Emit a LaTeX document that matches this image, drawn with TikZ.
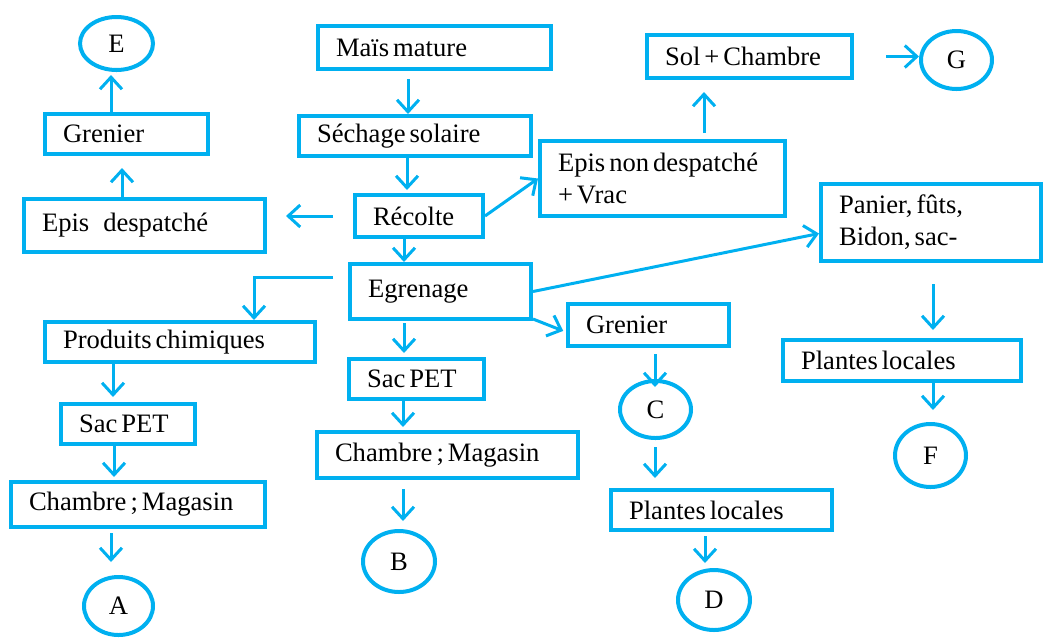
\documentclass[tikz,border=0pt]{standalone}
\usepackage{fontspec}
\setmainfont{Liberation Serif}
\usetikzlibrary{arrows.meta,shapes.geometric}
\definecolor{cb}{RGB}{0,176,240}
\newcommand\boxfont{\fontsize{13.3}{16}\selectfont}
\begin{document}
\begin{tikzpicture}[x=0.5pt,y=-0.5pt,
  bx/.style={draw=cb, line width=2pt, rectangle, inner xsep=9pt, inner ysep=0pt, align=left, font=\boxfont,
    execute at begin node={\spaceskip=2pt plus 0.5pt\xspaceskip=2pt\relax}},
  el/.style={draw=cb, line width=2pt, ellipse, inner sep=0pt, font=\boxfont},
  arr/.style={draw=cb, line width=1.5pt, -{Straight Barb[length=6pt,width=11pt]}}]
\useasboundingbox (0,0) rectangle (1050,639);
% boxes
\node[bx, text width=63.5pt, minimum height=20pt] (greL) at (126.5,134) {Grenier};
\node[bx, text width=102.5pt, minimum height=26.5pt] (epd) at (144.5,225.5) {Epis\hspace{7pt}despatché};
\node[bx, text width=98.5pt, minimum height=21.5pt] (mais) at (434.5,47.5) {Maïs mature};
\node[bx, text width=98pt, minimum height=20pt] (sech) at (415,136) {Séchage solaire};
\node[bx, text width=46pt, minimum height=21pt] (rec) at (419,216) {Récolte};
\node[bx, text width=72.5pt, minimum height=27.5pt] (egr) at (440.5,291.5) {Egrenage};
\node[bx, text width=104.5pt, minimum height=37.5pt] (epn) at (662.5,178.5) {Epis non despatché\\+ Vrac};
\node[bx, text width=84.5pt, minimum height=21.5pt] (sol) at (749.5,56.5) {Sol + Chambre};
\node[bx, text width=92pt, minimum height=38.5pt] (pan) at (931,222.5) {Panier, fûts,\\Bidon, sac-};
\node[bx, text width=101pt, minimum height=20.5pt] (plr) at (902,360.5) {Plantes locales};
\node[bx, text width=62.5pt, minimum height=21pt] (grm) at (648.5,325) {Grenier};
\node[bx, text width=92.5pt, minimum height=20pt] (plm) at (721.5,510) {Plantes locales};
\node[bx, text width=117pt, minimum height=20pt] (prod) at (180,342) {Produits chimiques};
\node[bx, text width=49pt, minimum height=20pt] (sacL) at (128,424) {Sac PET};
\node[bx, text width=109pt, minimum height=22.5pt] (chL) at (138,504.5) {Chambre ; Magasin};
\node[bx, text width=49.5pt, minimum height=20pt] (sacM) at (416.5,379) {Sac PET};
\node[bx, text width=112.5pt, minimum height=23pt] (chM) at (447.5,455) {Chambre ; Magasin};
% ellipses
\node[el, minimum width=36.5pt, minimum height=26.5pt] (E) at (116.5,43.5) {E};
\node[el, minimum width=35.5pt, minimum height=29pt] (G) at (956.5,60) {G};
\node[el, minimum width=35.5pt, minimum height=31.5pt] (F) at (930.5,455.5) {F};
\node[el, minimum width=35.5pt, minimum height=28.5pt] (C) at (655.5,409.5) {C};
\node[el, minimum width=36pt, minimum height=30pt] (D) at (714,600) {D};
\node[el, minimum width=34.5pt, minimum height=29pt] (A) at (118.5,606) {A};
\node[el, minimum width=36pt, minimum height=30.5pt] (B) at (399,561.5) {B};
% arrows
\draw[arr, shorten <=4pt] (mais.south -| 408,0) -- (sech.north -| 408,0);
\draw[arr, shorten >=1.5pt] (sech.south -| 407,0) -- (rec.north -| 407,0);
\draw[arr] (rec.south -| 404,0) -- (egr.north -| 404,0);
\draw[arr, shorten <=10pt, shorten >=9.5pt] (rec.west) -- (rec.west -| epd.east);
\draw[arr] (rec.east) -- (epn.west);
\draw[arr, shorten <=3pt, shorten >=6pt] (epn.north -| 704,0) -- (sol.south -| 704,0);
\draw[arr, shorten <=16pt] (sol.east) -- (sol.east -| G.west);
\draw[arr] (egr.east) -- ([yshift=-5.5pt]pan.west);
\draw[arr, shorten <=10.5pt, shorten >=4pt] (pan.south -| 933,0) -- (plr.north -| 933,0);
\draw[arr, shorten >=6pt] (plr.south -| 933,0) -- (F.north -| 933,0);
\draw[arr, shorten >=1.5pt] ([yshift=1pt]egr.south east) -- ([yshift=-3.5pt]grm.west);
\draw[arr, shorten <=3pt, shorten >=-4pt] (grm.south -| 655,0) -- (C.north -| 655,0);
\draw[arr, shorten <=3.5pt, shorten >=5pt] (C.south -| 655,0) -- (plm.north -| 655,0);
\draw[arr, shorten <=2pt, shorten >=2.5pt] (plm.south -| 705,0) -- (D.north -| 705,0);
\draw[arr] ([xshift=-7.5pt,yshift=7.25pt]egr.west) -| (prod.north -| 254,0);
\draw[arr, shorten >=2.5pt] (prod.south -| 113,0) -- (sacL.north -| 113,0);
\draw[arr, shorten >=1.5pt] (sacL.south -| 114,0) -- (chL.north -| 114,0);
\draw[arr, shorten <=2pt, shorten >=6.5pt] (chL.south -| 111,0) -- (A.north -| 111,0);
\draw[arr, shorten <=1pt, shorten >=2pt] (egr.south -| 404,0) -- (sacM.north -| 404,0);
\draw[arr, shorten >=1.5pt] (sacM.south -| 403,0) -- (chM.north -| 403,0);
\draw[arr, shorten <=4.5pt, shorten >=4pt] (chM.south -| 403,0) -- (B.north -| 403,0);
\draw[arr, shorten <=-1.5pt, shorten >=6pt] (epd.north -| 122,0) -- (greL.south -| 122,0);
\draw[arr, shorten >=1.5pt] (greL.north -| 111,0) -- (E.south -| 111,0);
\end{tikzpicture}
\end{document}
